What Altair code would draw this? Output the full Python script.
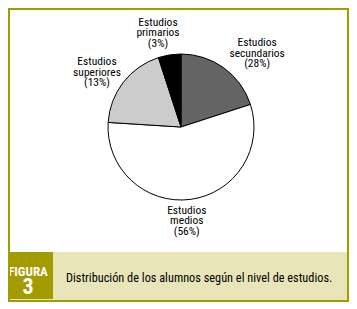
import altair as alt
import pandas as pd

# ---- data ----
categories = ["secundarios", "medios", "superiores", "primarios"]
# slice shares as drawn in the picture (clockwise from 12 o'clock)
shares = [20, 56, 19, 5]
labels = [
    "Estudios\nsecundarios\n(28%)",
    "Estudios\nmedios\n(56%)",
    "Estudios\nsuperiores\n(13%)",
    "Estudios\nprimarios\n(3%)",
]
slice_colors = ["#646464", "#ffffff", "#cccccc", "#000000"]
caption = "Distribución de los alumnos según el nivel de estudios."
fig_word = "FIGURA"
fig_num = "3"

df = pd.DataFrame({
    "cat": categories,
    "share": shares,
    "label": labels,
    "idx": list(range(len(categories))),
})

W, H = 341, 294
CX, CY, R = 173, 119, 73
OLIVE = "#a29c00"
BAND = "#e8e6b8"
FONT = "Roboto Condensed, DejaVu Sans Condensed, sans-serif"
LH = 10.5

one = pd.DataFrame({"a": [0]})

band = alt.Chart(one).mark_rect(color=BAND).encode(
    x=alt.value(0), x2=alt.value(W), y=alt.value(244), y2=alt.value(H)
)
box = alt.Chart(one).mark_rect(color=OLIVE).encode(
    x=alt.value(0), x2=alt.value(45), y=alt.value(244), y2=alt.value(291)
)

base = alt.Chart(df).encode(
    theta=alt.Theta("share:Q", stack=True),
    order=alt.Order("idx:Q"),
)

pie = base.mark_arc(outerRadius=R, stroke="black", strokeWidth=1).encode(
    color=alt.Color("cat:N", scale=alt.Scale(domain=categories, range=slice_colors), legend=None),
    x=alt.value(CX), y=alt.value(CY),
)

# per-label placement (radius along slice mid-angle, fine offsets)
label_place = {
    "secundarios": (104, 15, 11),
    "medios": (94, -6, 1),
    "superiores": (100, -5, 7),
    "primarios": (96, -8, 1),
}
label_layers = []
for c in categories:
    r, dx, dy = label_place[c]
    lay = base.transform_calculate(
        txt=f"datum.cat == '{c}' ? datum.label : ''"
    ).mark_text(
        radius=r, dx=dx, dy=dy - LH, lineBreak="\n", font=FONT, fontSize=11.5,
        lineHeight=LH, align="center", baseline="middle", color="black",
    ).encode(
        text="txt:N", detail="cat:N", x=alt.value(CX), y=alt.value(CY),
    )
    label_layers.append(lay)

fig_txt = alt.Chart(one).mark_text(
    font=FONT, fontSize=13, fontWeight="bold", color="white", align="center", baseline="middle"
).encode(x=alt.value(20), y=alt.value(264), text=alt.value(fig_word))
num_txt = alt.Chart(one).mark_text(
    font=FONT, fontSize=22, fontWeight="bold", color="white", align="center", baseline="middle"
).encode(x=alt.value(20), y=alt.value(278.5), text=alt.value(fig_num))
cap_txt = alt.Chart(one).mark_text(
    font=FONT, fontSize=12.3, color="black", align="left", baseline="middle"
).encode(x=alt.value(58), y=alt.value(270), text=alt.value(caption))

border = alt.Chart(one).mark_rect(fill=None, stroke=OLIVE, strokeWidth=2).encode(
    x=alt.value(1), x2=alt.value(W - 1), y=alt.value(1), y2=alt.value(H - 1)
)

chart = alt.layer(
    band, box, pie, *label_layers, fig_txt, num_txt, cap_txt, border
).properties(
    width=W, height=H,
    autosize=alt.AutoSizeParams(type="none"),
    padding=0,
    background="white",
).configure_view(stroke=None)

chart.save("out.html", embed_options={"renderer": "svg", "actions": False})
